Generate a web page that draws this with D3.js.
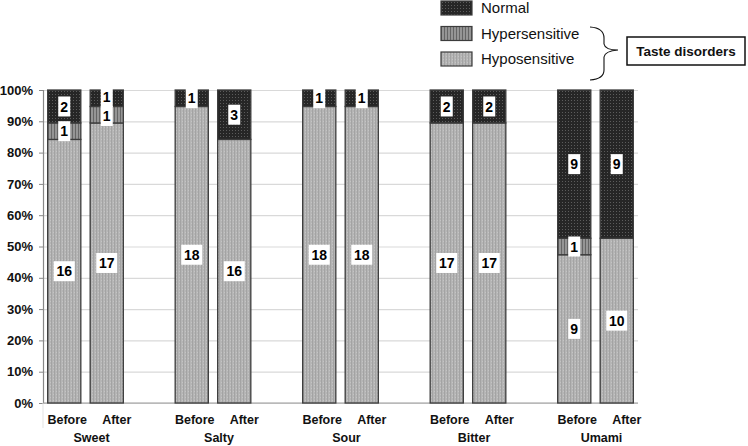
<!DOCTYPE html>
<html>
<head>
<meta charset="utf-8">
<script src="https://cdn.jsdelivr.net/npm/d3@7"></script>
<style>
  body { margin: 0; background: #fff; }
  svg { display: block; font-family: "Liberation Sans", Arial, sans-serif; }
</style>
</head>
<body>
<div id="chart"></div>
<script>
const tastes = ["Sweet", "Salty", "Sour", "Bitter", "Umami"];
const periods = ["Before", "After"];
// counts per bar, in order Sweet-Before, Sweet-After, Salty-Before, ...
const hyposensitive = [16, 17, 18, 16, 18, 18, 17, 17, 9, 10];
const hypersensitive = [1, 1, 0, 0, 0, 0, 0, 0, 1, 0];
const normal = [2, 1, 1, 3, 1, 1, 2, 2, 9, 9];
const legendLabels = ["Normal", "Hypersensitive", "Hyposensitive"];
const braceLabel = "Taste disorders";

const WIDTH = 748;
const HEIGHT = 446;
const MARGINS = { TOP: 90, RIGHT: 110, BOTTOM: 43, LEFT: 43 };

const svg = d3.select("#chart").append("svg")
  .attr("width", WIDTH)
  .attr("height", HEIGHT);

const defs = svg.append("defs");

// fills: light dotted grey, striped grey, dark dotted
const pHypo = defs.append("pattern").attr("id", "pHypo")
  .attr("width", 3).attr("height", 3).attr("patternUnits", "userSpaceOnUse");
pHypo.append("rect").attr("width", 3).attr("height", 3).attr("fill", "#b5b5b5");
pHypo.append("rect").attr("width", 1).attr("height", 3).attr("fill", "#a3a3a3");
pHypo.append("rect").attr("x", 2).attr("y", 1).attr("width", 1).attr("height", 1).attr("fill", "#c4c4c4");

const pHyper = defs.append("pattern").attr("id", "pHyper")
  .attr("width", 3).attr("height", 3).attr("patternUnits", "userSpaceOnUse");
pHyper.append("rect").attr("width", 3).attr("height", 3).attr("fill", "#959595");
pHyper.append("rect").attr("width", 1).attr("height", 3).attr("fill", "#656565");

const pNormal = defs.append("pattern").attr("id", "pNormal")
  .attr("width", 3).attr("height", 3).attr("patternUnits", "userSpaceOnUse");
pNormal.append("rect").attr("width", 3).attr("height", 3).attr("fill", "#262626");
pNormal.append("rect").attr("x", 1).attr("y", 1).attr("width", 1).attr("height", 1).attr("fill", "#5c5c5c");

const fills = { hypo: "url(#pHypo)", hyper: "url(#pHyper)", normal: "url(#pNormal)" };

// one row per bar
const datos = [];
tastes.forEach((t, i) => {
  periods.forEach((p, j) => {
    const k = i * 2 + j;
    datos.push({ key: `${t}|${p}`, taste: t, period: p,
      hypo: hyposensitive[k], hyper: hypersensitive[k], normal: normal[k] });
  });
});

// slots with a blank one between taste groups
const slots = [];
tastes.forEach((t, i) => {
  periods.forEach(p => slots.push(`${t}|${p}`));
  if (i < tastes.length - 1) slots.push(`gap${i}`);
});

const plotW = WIDTH - MARGINS.LEFT - MARGINS.RIGHT;
const plotH = HEIGHT - MARGINS.TOP - MARGINS.BOTTOM;
const x0 = MARGINS.LEFT;
const y0 = MARGINS.TOP;

const escalaX = d3.scaleBand()
  .domain(slots)
  .range([x0, x0 + plotW])
  .paddingInner(0.22)
  .paddingOuter(0.11);

const escalaY = d3.scaleLinear()
  .domain([0, 1])
  .range([y0 + plotH, y0]);

// gridlines
svg.append("g")
  .attr("transform", `translate(${x0},0)`)
  .call(d3.axisLeft(escalaY).ticks(10).tickSize(-plotW).tickFormat(""))
  .call(g => g.select(".domain").remove())
  .call(g => g.selectAll("line").attr("stroke", "#d9d9d9").attr("stroke-width", 1.2));

// y axis
const ejeY = svg.append("g")
  .attr("transform", `translate(${x0},0)`)
  .call(d3.axisLeft(escalaY).ticks(10).tickSize(4).tickPadding(6).tickFormat(d3.format(".0%")));
ejeY.select(".domain").attr("stroke", "#888").attr("stroke-width", 1.2);
ejeY.selectAll("line").attr("stroke", "#888");
ejeY.selectAll("text")
  .attr("font-size", 13).attr("font-weight", "bold").attr("fill", "#111")
  .attr("font-family", "'Liberation Sans', Arial, sans-serif");

// x axis baseline + category separator
svg.append("line")
  .attr("x1", x0).attr("x2", x0 + plotW)
  .attr("y1", escalaY(0)).attr("y2", escalaY(0))
  .attr("stroke", "#9a9a9a").attr("stroke-width", 1.2);
svg.append("line")
  .attr("x1", x0).attr("x2", x0)
  .attr("y1", escalaY(0)).attr("y2", escalaY(0) + 25)
  .attr("stroke", "#e3e3e3").attr("stroke-width", 1);

const stack = d3.stack()
  .keys(["hypo", "hyper", "normal"])
  .offset(d3.stackOffsetExpand);
const series = stack(datos);

const capas = svg.append("g").selectAll("g")
  .data(series)
  .join("g")
  .attr("fill", s => fills[s.key]);

capas.selectAll("rect")
  .data(s => s.map(d => ({ s0: d[0], s1: d[1], key: d.data.key, value: d.data[s.key] })))
  .join("rect")
  .attr("x", d => escalaX(d.key))
  .attr("width", escalaX.bandwidth())
  .attr("y", d => escalaY(d.s1))
  .attr("height", d => escalaY(d.s0) - escalaY(d.s1))
  .attr("stroke", "#3c3c3c")
  .attr("stroke-width", 1.3);

// value labels in white boxes, centred in their segment
const etiquetas = [];
series.forEach(s => s.forEach(d => {
  const v = d.data[s.key];
  if (v > 0) etiquetas.push({ key: d.data.key, value: v, py: escalaY((d[0] + d[1]) / 2) });
}));

// push apart labels of the same bar that would overlap
const MIN_GAP = 19;
d3.group(etiquetas, d => d.key).forEach(lista => {
  lista.sort((a, b) => a.py - b.py);
  for (let i = 1; i < lista.length; i++) {
    const gap = lista[i].py - lista[i - 1].py;
    if (gap < MIN_GAP) {
      const half = (MIN_GAP - gap) / 2;
      lista[i - 1].py -= half;
      lista[i].py += half;
    }
  }
});

const gEtiq = svg.append("g").selectAll("g")
  .data(etiquetas)
  .join("g")
  .attr("transform", d => `translate(${escalaX(d.key) + escalaX.bandwidth() / 2},${d.py})`);

gEtiq.append("rect")
  .attr("x", d => String(d.value).length > 1 ? -10.5 : -6)
  .attr("width", d => String(d.value).length > 1 ? 21 : 12)
  .attr("y", -10)
  .attr("height", 20)
  .attr("fill", "#fff");

gEtiq.append("text")
  .attr("text-anchor", "middle")
  .attr("dy", "0.36em")
  .attr("font-size", 14)
  .attr("font-weight", "bold")
  .attr("fill", "#000")
  .text(d => d.value);

// category labels
const labelOffset = { Before: 3, After: 10 };
svg.append("g").selectAll("text")
  .data(datos)
  .join("text")
  .attr("x", d => escalaX(d.key) + escalaX.bandwidth() / 2 + labelOffset[d.period])
  .attr("y", 424)
  .attr("text-anchor", "middle")
  .attr("font-size", 12.5)
  .attr("font-weight", "bold")
  .attr("fill", "#111")
  .text(d => d.period);

svg.append("g").selectAll("text")
  .data(tastes)
  .join("text")
  .attr("x", t => (escalaX(`${t}|Before`) + escalaX(`${t}|After`) + escalaX.bandwidth()) / 2 + 6)
  .attr("y", 442)
  .attr("text-anchor", "middle")
  .attr("font-size", 12.5)
  .attr("font-weight", "bold")
  .attr("fill", "#111")
  .text(t => t);

// legend
const leyenda = svg.append("g").selectAll("g")
  .data(legendLabels)
  .join("g")
  .attr("transform", (d, i) => `translate(441,${1 + i * 25.5})`);

leyenda.append("rect")
  .attr("width", 31)
  .attr("height", 14)
  .attr("fill", (d, i) => [fills.normal, fills.hyper, fills.hypo][i])
  .attr("stroke", "#3c3c3c")
  .attr("stroke-width", 1.2);

leyenda.append("text")
  .attr("x", 40)
  .attr("y", 7)
  .attr("dy", "0.36em")
  .attr("font-size", 15)
  .attr("fill", "#111")
  .text(d => d);

// brace grouping the two disorder types
svg.append("path")
  .attr("d", "M590,27 Q604,28 604,38 L604,44 Q605,50 618,50 Q605,51 604,57 L604,70 Q604,79 590,80")
  .attr("fill", "none")
  .attr("stroke", "#111")
  .attr("stroke-width", 1.1);

svg.append("rect")
  .attr("x", 627).attr("y", 37)
  .attr("width", 118).attr("height", 28)
  .attr("fill", "#fff")
  .attr("stroke", "#111")
  .attr("stroke-width", 1.5);

svg.append("text")
  .attr("x", 686).attr("y", 51)
  .attr("dy", "0.36em")
  .attr("text-anchor", "middle")
  .attr("font-size", 13.5)
  .attr("font-weight", "bold")
  .attr("fill", "#111")
  .text(braceLabel);
</script>
</body>
</html>
